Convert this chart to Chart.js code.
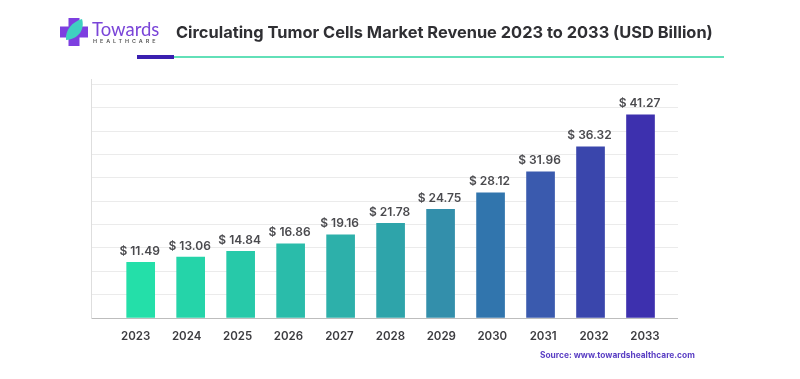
<!DOCTYPE html>
<html><head><meta charset="utf-8">
<script src="https://cdn.jsdelivr.net/npm/chart.js@4"></script>
<style>
html,body{margin:0;padding:0;background:#fff;width:800px;height:379px;overflow:hidden}
#wrap{position:relative;width:800px;height:379px;font-family:Inter,sans-serif}
canvas{position:absolute;left:0;top:0;filter:blur(.4px)}
.t{position:absolute;white-space:nowrap;filter:blur(.3px)}
#title{left:176px;top:21px;font-size:16.4px;font-weight:700;color:#2f2f33;line-height:22px}
#brand{left:92px;top:18px;font-family:Lato,sans-serif;font-size:18.5px;font-weight:400;color:#7a45d8;line-height:22px}
#sub{left:93px;top:38px;font-size:5.4px;font-weight:600;letter-spacing:2.95px;color:#555;line-height:7px}
#source{left:540px;top:349px;font-size:8.4px;font-weight:700;color:#5a3fc4;line-height:12px}
#r1{position:absolute;left:137px;top:54.5px;width:37px;height:4px;background:#3a1fb0}
#r2{position:absolute;left:174px;top:55.5px;width:550px;height:2px;background:#62e0b8}
#logo{position:absolute;left:60px;top:18px}
</style></head>
<body>
<div id="wrap">
<canvas id="c" width="800" height="379"></canvas>
<svg id="logo" width="28" height="28" viewBox="0 0 28 28">
<path d="M8.5 0h11v8.5H28v11h-8.5V28h-11v-8.5H0v-11h8.5z" fill="#7d3fe0"/>
<path d="M6 22C5 12 12 4 22 1c3 10-3 20-16 21z" fill="#3fd0c0"/>
</svg>
<div class="t" id="brand">Towards</div>
<div class="t" id="sub">HEALTHCARE</div>
<div class="t" id="title">Circulating Tumor Cells Market Revenue 2023 to 2033 (USD Billion)</div>
<div id="r2"></div><div id="r1"></div>
<div class="t" id="source">Source: www.towardshealthcare.com</div>
</div>
<script>
const categories = [2023,2024,2025,2026,2027,2028,2029,2030,2031,2032,2033];
// values printed above the bars
const revenue = [11.49,13.06,14.84,16.86,19.16,21.78,24.75,28.12,31.96,36.32,41.27];
// bar heights as drawn in the picture (the original bars are not strictly to scale)
const barLevels = [11.3,12.37,13.53,15.07,16.9,19.2,22.05,25.42,29.68,34.75,41.24];
const barColors = ['#24dfa9','#25d4a9','#27c9a9','#2abcaa','#2db0aa','#2ea4aa','#338fab','#3175ad','#3a5aae','#3a46ac','#3d30ae'];
const gridTicks = [0,4.74,9.48,14.22,18.96,23.7,28.44,33.18,37.92,42.66,47.4];

const valueLabels = {
  id:'valueLabels',
  afterDatasetsDraw(chart){
    const {ctx} = chart;
    ctx.save();
    ctx.font = '600 12px Inter, sans-serif';
    ctx.fillStyle = '#4a4a4e';
    ctx.textAlign = 'center';
    ctx.textBaseline = 'middle';
    chart.getDatasetMeta(0).data.forEach((bar,i)=>{
      ctx.fillText('$ '+revenue[i].toFixed(2), bar.x-1, bar.y-10.9);
    });
    ctx.restore();
  }
};

new Chart(document.getElementById('c'),{
  type:'bar',
  data:{datasets:[{
    data:categories.map((c,i)=>({x:c,y:barLevels[i]})),
    backgroundColor:barColors,
    barThickness:28,
    borderWidth:0,
    xAxisID:'xBars',
    yAxisID:'y'
  }]},
  options:{
    responsive:false,
    animation:false,
    layout:{padding:{top:79,right:122,left:0,bottom:0}},
    plugins:{legend:{display:false},tooltip:{enabled:false},title:{display:false}},
    scales:{
      xBars:{
        type:'linear',axis:'x',display:false,offset:false,
        min:2022.006,max:2033.75,
        grid:{offset:false}
      },
      xLabels:{
        type:'linear',axis:'x',position:'bottom',offset:false,
        min:2022.122,max:2033.648,
        grid:{display:false,drawTicks:false},
        border:{display:false},
        afterBuildTicks(s){ s.ticks = categories.map(v=>({value:v})); },
        afterFit(s){ s.height = 61; },
        ticks:{
          autoSkip:false,maxRotation:0,minRotation:0,padding:11.5,
          color:'#3c3c40',font:{family:'Inter, sans-serif',size:11.5,weight:'600'},
          callback:v=>String(v)
        }
      },
      y:{
        type:'linear',position:'left',min:0,max:48.5,
        afterBuildTicks(s){ s.ticks = gridTicks.map(v=>({value:v})); },
        afterFit(s){ s.width = 91; },
        grid:{color:c=>c.tick&&c.tick.value===0?'#bdbdbd':'#ebebeb',lineWidth:1,drawTicks:false},
        border:{display:true,color:'#dedede',width:1},
        ticks:{display:false}
      }
    }
  },
  plugins:[valueLabels]
});
</script>
</body></html>
